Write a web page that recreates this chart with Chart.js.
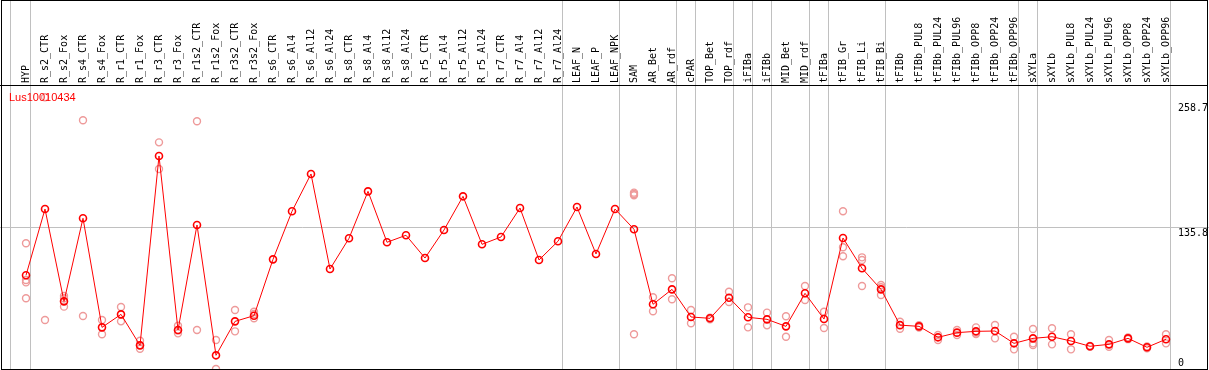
<!DOCTYPE html>
<html>
<head>
<meta charset="utf-8">
<script src="https://cdn.jsdelivr.net/npm/chart.js@4"></script>
<style>
html, body { margin: 0; padding: 0; background: #fff; }
canvas { display: block; }
</style>
</head>
<body>
<canvas id="chart" width="1209" height="370"></canvas>
<script>
const geneId = "Lus10010434";

const categories = [
  "HYP", "R_s2_CTR", "R_s2_Fox", "R_s4_CTR", "R_s4_Fox", "R_r1_CTR", "R_r1_Fox",
  "R_r3_CTR", "R_r3_Fox", "R_r1s2_CTR", "R_r1s2_Fox", "R_r3s2_CTR", "R_r3s2_Fox",
  "R_s6_CTR", "R_s6_Al4", "R_s6_Al12", "R_s6_Al24", "R_s8_CTR", "R_s8_Al4",
  "R_s8_Al12", "R_s8_Al24", "R_r5_CTR", "R_r5_Al4", "R_r5_Al12", "R_r5_Al24",
  "R_r7_CTR", "R_r7_Al4", "R_r7_Al12", "R_r7_Al24", "LEAF_N", "LEAF_P", "LEAF_NPK",
  "SAM", "AR_Bet", "AR_rdf", "cPAR", "TOP_Bet", "TOP_rdf", "iFIBa", "iFIBb",
  "MID_Bet", "MID_rdf", "tFIBa", "tFIB_Gr", "tFIB_Li", "tFIB_Bi", "tFIBb",
  "tFIBb_PUL8", "tFIBb_PUL24", "tFIBb_PUL96", "tFIBb_OPP8", "tFIBb_OPP24", "tFIBb_OPP96",
  "sXYLa", "sXYLb", "sXYLb_PUL8", "sXYLb_PUL24", "sXYLb_PUL96", "sXYLb_OPP8",
  "sXYLb_OPP24", "sXYLb_OPP96"
];

// mean expression per sample (red line)
const meanValues = [
  89.2, 154.4, 63.6, 145.3, 38.0, 50.8, 20.3, 206.6, 35.4, 138.7, 10.5, 43.9, 49.5,
  104.9, 152.2, 188.9, 95.4, 125.6, 171.8, 121.7, 128.6, 106.2, 133.8, 166.9, 119.7,
  126.9, 155.4, 104.3, 122.7, 156.4, 110.2, 154.4,
  134.5, 60.7, 75.4, 48.2, 46.9, 67.2, 47.9, 45.9, 39.0, 71.5, 46.2, 125.9, 96.1, 75.4,
  40.2, 39.0, 28.2, 32.8, 34.1, 34.4, 22.3,
  27.2, 28.8, 24.6, 19.4, 21.3, 27.2, 18.4, 26.3
];

// single replicates (light circles)
const repValues = [
  [120.7, 84.6, 82.3, 66.6], [264.3, 45.2], [68.9, 66.6, 58.4], [241.7, 49.2],
  [45.2, 31.2], [58.0, 43.9], [24.9, 20.5, 17.0], [220.0, 193.8], [39.6, 35.0, 32.1],
  [240.7, 35.4], [25.6, -3.0], [55.1, 34.1], [53.4, 51.1, 46.9],
  [], [], [], [], [], [], [], [], [], [], [], [], [], [], [], [], [], [], [],
  [170.5, 169.2, 168.0, 31.2], [67.6, 53.8], [86.3, 65.6], [55.1, 42.0], [47.6, 46.0],
  [73.1, 63.0], [57.7, 38.0], [52.5, 40.0], [48.9, 28.8], [78.7, 64.9], [53.4, 37.4],
  [152.2, 116.8, 107.9], [106.9, 104.3, 78.7], [79.7, 77.5, 69.8],
  [43.6, 36.7], [40.2, 37.8], [30.5, 25.6], [35.4, 30.5], [38.0, 32.8, 31.5],
  [40.3, 27.2], [28.8, 16.4],
  [36.4, 22.3, 20.7], [37.1, 21.3], [31.2, 16.4], [19.8, 19.0], [25.6, 19.0],
  [28.0, 26.4], [19.2, 17.4], [31.2, 22.3]
];

const yTickValues = [0, 135.8, 258.7];
const yTickLabels = ["0", "135.8", "258.7"];
const groupBreaks = [-0.8, 0.24, 28.24, 31.24, 34.24, 35.24, 37.24, 38.24, 39.24,
  41.24, 42.24, 45.24, 52.24, 53.24, 60.24];

const meanPoints = meanValues.map((v, i) => ({ x: i, y: v }));
const repPoints = [];
repValues.forEach((reps, i) => reps.forEach(v => repPoints.push({ x: i, y: v })));

const monoFont = '10px "DejaVu Sans Mono", monospace';

const decorPlugin = {
  id: "decor",
  afterDraw(chart) {
    const ctx = chart.ctx;
    const xs = chart.scales.x;
    const ys = chart.scales.y;
    ctx.save();

    // header separator
    ctx.strokeStyle = "#000";
    ctx.lineWidth = 1;
    ctx.beginPath();
    ctx.moveTo(0, 85.5);
    ctx.lineTo(1208, 85.5);
    ctx.stroke();

    // vertical sample names
    ctx.fillStyle = "#000";
    ctx.font = monoFont;
    ctx.textAlign = "left";
    ctx.textBaseline = "alphabetic";
    categories.forEach((c, i) => {
      const x = Math.round(xs.getPixelForValue(i)) + 3;
      ctx.save();
      ctx.translate(x, 83);
      ctx.rotate(-Math.PI / 2);
      ctx.fillText(c, 0, 0);
      ctx.restore();
    });

    // value labels on the right
    yTickValues.forEach((v, k) => {
      const y = Math.min(Math.round(ys.getPixelForValue(v)) + 8, Math.round(ys.getPixelForValue(0)));
      ctx.fillText(yTickLabels[k], 1178, y);
    });

    // gene id
    ctx.fillStyle = "#ff0000";
    ctx.font = '11px "Liberation Sans", Arial, sans-serif';
    ctx.fillText(geneId, 9, 101);

    // frame
    ctx.strokeStyle = "#000";
    ctx.strokeRect(1.5, 0.5, 1206, 369);
    ctx.restore();
  }
};

new Chart(document.getElementById("chart"), {
  type: "scatter",
  data: {
    datasets: [
      {
        data: meanPoints,
        showLine: true,
        borderColor: "#ff0000",
        borderWidth: 1,
        pointRadius: 3.5,
        pointBorderWidth: 1.6,
        pointBorderColor: "#ff0000",
        pointBackgroundColor: "rgba(0,0,0,0)",
        order: 0
      },
      {
        data: repPoints,
        showLine: false,
        pointRadius: 3.5,
        pointBorderWidth: 1.4,
        pointBorderColor: "#ee9a9a",
        pointBackgroundColor: "rgba(0,0,0,0)",
        order: 1
      }
    ]
  },
  options: {
    responsive: false,
    animation: false,
    events: [],
    layout: { padding: 0, autoPadding: false },
    plugins: { legend: { display: false }, tooltip: { enabled: false } },
    scales: {
      x: {
        type: "linear",
        bounds: "data",
        min: -26 / 19,
        max: (1209 - 26) / 19,
        ticks: { display: false },
        border: { display: false },
        grid: { color: "#c0c0c0", lineWidth: 1, drawTicks: false },
        afterBuildTicks: s => { s.ticks = groupBreaks.map(v => ({ value: v })); }
      },
      y: {
        type: "linear",
        bounds: "data",
        min: -4 / 1.0166,
        max: 366 / 1.0166,
        ticks: { display: false },
        border: { display: false },
        grid: {
          drawTicks: false,
          lineWidth: 1,
          color: c => (c.tick && c.tick.value === 135.8 ? "#c0c0c0" : "rgba(0,0,0,0)")
        },
        afterBuildTicks: s => { s.ticks = yTickValues.map(v => ({ value: v })); }
      }
    }
  },
  plugins: [decorPlugin]
});
</script>
</body>
</html>
